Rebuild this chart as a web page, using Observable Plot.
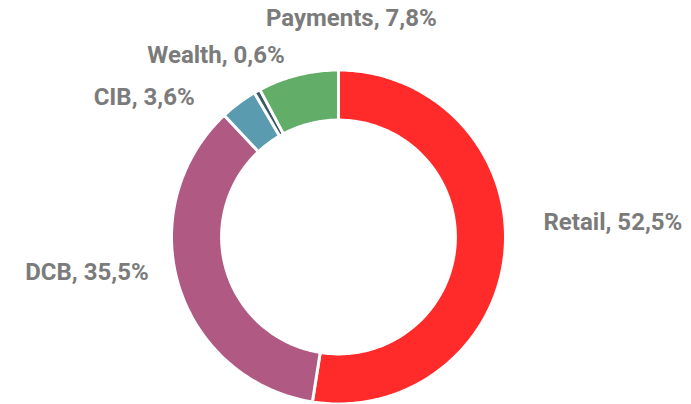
<!DOCTYPE html>
<html><head><meta charset="utf-8">
<script src="https://cdn.jsdelivr.net/npm/d3@7"></script>
<script src="https://cdn.jsdelivr.net/npm/@observablehq/plot@0.6"></script>
<style>body{margin:0;background:#fff}</style>
</head><body><div id="chart"></div>
<script>
// ---- data ----
const segments = ["Retail", "DCB", "CIB", "Wealth", "Payments"];
const shares = [52.5, 35.5, 3.6, 0.6, 7.8];
const labels = ["Retail, 52,5%", "DCB, 35,5%", "CIB, 3,6%", "Wealth, 0,6%", "Payments, 7,8%"];
const colors = ["#FF2A2A", "#B05A83", "#5B9BB0", "#3A5868", "#62AD68"];

// ---- layout (not data) ----
const W = 691, H = 404;
const cx = 338, cy = 236.5, R = 167;   // pixel centre & radius of the ring
const inner = 0.70;                    // inner radius as a fraction of R
const labelR = 1.2 * 165.5 / R;
const labelAnchor = ["start", "end", "end", "end", "middle"];
const labelShift = [[7, -30], [0, -23], [-25, 20], [43, -8], [61, -26]]; // px nudges

const pie = d3.pie().sort(null).value(d => d)(shares);

const pts = [];
pie.forEach((p, i) => {
  const a0 = p.startAngle, a1 = p.endAngle;
  const n = Math.max(2, Math.ceil((a1 - a0) / (Math.PI / 180)));
  for (let k = 0; k <= n; k++) {
    const a = a0 + (a1 - a0) * k / n;
    pts.push({seg: segments[i], x: Math.sin(a), y: Math.cos(a)});
  }
  for (let k = n; k >= 0; k--) {
    const a = a0 + (a1 - a0) * k / n;
    pts.push({seg: segments[i], x: inner * Math.sin(a), y: inner * Math.cos(a)});
  }
});

const labelData = pie.map((p, i) => {
  const a = (p.startAngle + p.endAngle) / 2;
  return {
    text: labels[i],
    anchor: labelAnchor[i],
    x: labelR * Math.sin(a) + labelShift[i][0] / R,
    y: labelR * Math.cos(a) - labelShift[i][1] / R
  };
});

const textStyle = {fontSize: 24, fontWeight: "bold", fill: "#7B7B7B", fontFamily: "Roboto, sans-serif"};

const chart = Plot.plot({
  width: W, height: H,
  margin: 0,
  style: {background: "#fff", fontFamily: "Roboto, sans-serif"},
  x: {domain: [-cx / R, (W - cx) / R], range: [0, W], axis: null},
  y: {domain: [-(H - cy) / R, cy / R], range: [H, 0], axis: null},
  color: {domain: segments, range: colors},
  marks: [
    Plot.line(pts, {x: "x", y: "y", z: "seg", fill: "seg", stroke: "white", strokeWidth: 3, curve: "linear-closed"}),
    ...["start", "end", "middle"].map(anc =>
      Plot.text(labelData.filter(d => d.anchor === anc), {x: "x", y: "y", text: "text", textAnchor: anc, ...textStyle}))
  ]
});
document.getElementById("chart").appendChild(chart);
</script>
</body></html>
